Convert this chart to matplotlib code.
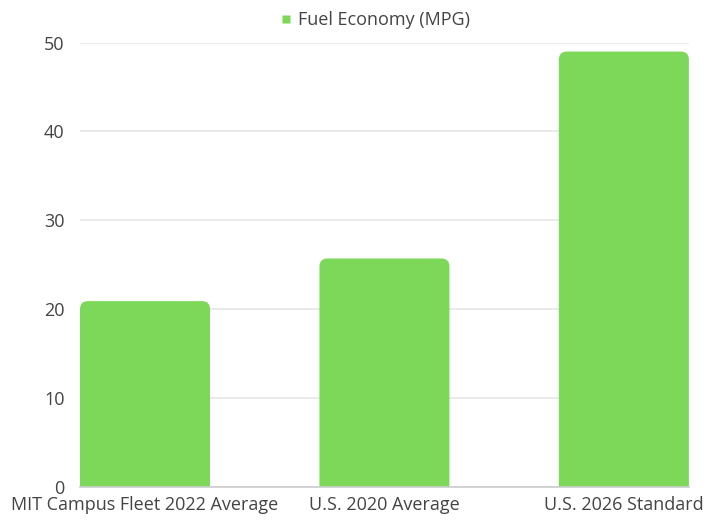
import matplotlib
matplotlib.use('Agg')
import matplotlib.pyplot as plt
from matplotlib.patches import FancyBboxPatch
from matplotlib.lines import Line2D

categories = ["MIT Campus Fleet 2022 Average", "U.S. 2020 Average", "U.S. 2026 Standard"]
mpg = [20.9, 25.7, 49.0]
series_name = "Fuel Economy (MPG)"
y_ticks = [0, 10, 20, 30, 40, 50]

bar_color = "#7dd85a"
text_color = "#444444"

plt.rcParams['font.family'] = ['Open Sans', 'DejaVu Sans']

fig = plt.figure(figsize=(7.08, 5.23), dpi=100)
ax = fig.add_axes([0.113, 0.0694, 0.860, 0.849])

width = 0.543
positions = list(range(len(categories)))
bars = ax.bar(positions, mpg, width=width, color=bar_color)

ax.set_xlim(-width / 2, positions[-1] + width / 2)
ax.set_ylim(0, 50)

# swap the plain rectangles for ones with rounded top corners
fig.canvas.draw()
x_per_px = (ax.get_xlim()[1] - ax.get_xlim()[0]) / ax.bbox.width
y_per_px = (ax.get_ylim()[1] - ax.get_ylim()[0]) / ax.bbox.height
radius_px = 8
for rect in bars.patches:
    x, w, h = rect.get_x(), rect.get_width(), rect.get_height()
    rect.set_visible(False)
    extra = radius_px * 2 * y_per_px
    box = FancyBboxPatch((x, -extra), w, h + extra,
                         boxstyle=f"round,pad=0,rounding_size={radius_px * x_per_px}",
                         mutation_aspect=y_per_px / x_per_px,
                         facecolor=bar_color, edgecolor='none', zorder=2)
    ax.add_patch(box)

ax.set_yticks(y_ticks)
ax.yaxis.grid(True, color="#e6e6e6", linewidth=1.2)
ax.set_axisbelow(True)
for side in ['top', 'right', 'left']:
    ax.spines[side].set_visible(False)
ax.spines['bottom'].set_color("#cccccc")
ax.spines['bottom'].set_linewidth(1.2)
ax.spines['bottom'].set_zorder(3)

ax.set_xticks(positions)
ax.set_xticklabels(categories)
ax.tick_params(axis='both', length=0, labelsize=13, labelcolor=text_color)
ax.tick_params(axis='y', pad=11)
ax.tick_params(axis='x', pad=7)

handle = Line2D([], [], marker='s', linestyle='none', markersize=6,
                markerfacecolor=bar_color, markeredgecolor='none')
fig.legend([handle], [series_name], loc='center', bbox_to_anchor=(0.53, 0.962),
           frameon=False, fontsize=13, labelcolor=text_color,
           handlelength=0.6, handletextpad=0.4)

plt.savefig("out.png", dpi=100)
plt.close()
